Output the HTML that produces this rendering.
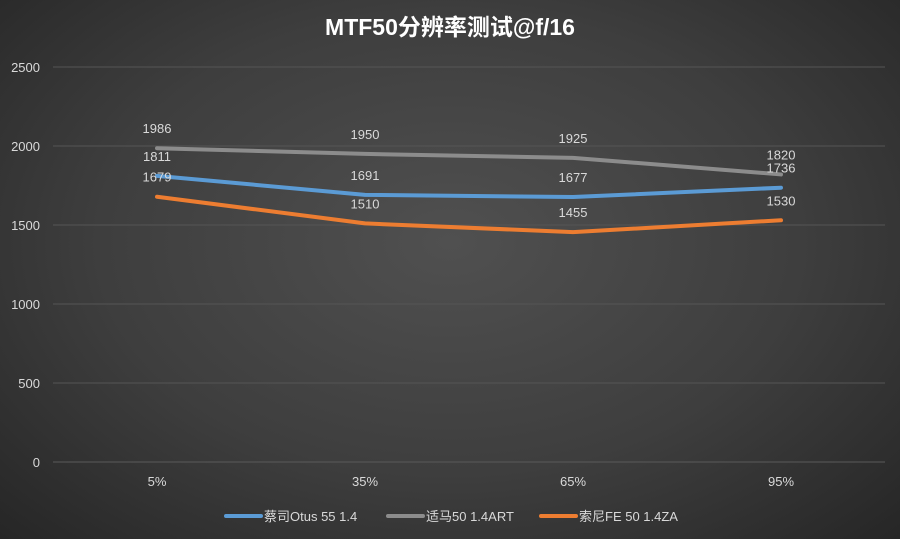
<!DOCTYPE html>
<html><head><meta charset="utf-8">
<style>
html,body{margin:0;padding:0}
body{width:900px;height:539px;overflow:hidden;background:radial-gradient(ellipse at 50% 45%,#505050 0%,#3e3e3e 55%,#262626 100%);font-family:"Liberation Sans","Noto Sans CJK SC",sans-serif}
</style></head><body>
<svg id="chart" width="900" height="539" xmlns="http://www.w3.org/2000/svg" style="position:absolute;left:0;top:0">
<text x="450" y="35" text-anchor="middle" fill="#ffffff" font-size="23" font-weight="bold" font-family="Liberation Sans, Noto Sans CJK SC, sans-serif">MTF50分辨率测试@f/16</text>
<g id="grid"></g><g id="series"></g><g id="labels"></g><g id="legend"></g>
</svg>
<script>
const categories=["5%","35%","65%","95%"];
const yTicks=[0,500,1000,1500,2000,2500];
const seriesNames=["蔡司Otus 55 1.4","适马50 1.4ART","索尼FE 50 1.4ZA"];
const zeissValues=[1811,1691,1677,1736];
const sigmaValues=[1986,1950,1925,1820];
const sonyValues=[1679,1510,1455,1530];
const colors=["#5b9bd5","#8c8c8c","#ed7d31"];
const NS="http://www.w3.org/2000/svg";
const x0=53,x1=885,y0=462,yTop=67,yMax=2500;
function xs(i){return x0+(x1-x0)/categories.length*(i+0.5);}
function ys(v){return y0-(y0-yTop)*v/yMax;}
function mk(t,a,p){const e=document.createElementNS(NS,t);for(const k in a)e.setAttribute(k,a[k]);p.appendChild(e);return e;}
const grid=document.getElementById('grid');
yTicks.forEach(v=>{
 const l=mk('line',{x1:x0,x2:x1,y1:ys(v),y2:ys(v),stroke:v===0?'#5a5a5a':'#555555','stroke-width':1},grid);
 
 
 const t=mk('text',{x:40,y:ys(v)+5,'text-anchor':'end',fill:'#d9d9d9','font-size':13},grid);
 t.textContent=v;
 
 
});
categories.forEach((c,i)=>{
 const t=mk('text',{x:xs(i),y:486,'text-anchor':'middle',fill:'#d9d9d9','font-size':13},grid);
 t.textContent=c;
 
 
});
const all=[zeissValues,sigmaValues,sonyValues];
const sg=document.getElementById('series'),lg=document.getElementById('labels');
[2,0,1].forEach(s=>{
 const vals=all[s];
 const d=vals.map((v,i)=>(i?'L':'M')+xs(i)+','+ys(v)).join(' ');
 const p=mk('path',{d:d,fill:'none',stroke:colors[s],'stroke-width':4,'stroke-linecap':'round','stroke-linejoin':'round'},sg);
 
 
 vals.forEach((v,i)=>{
  const t=mk('text',{x:xs(i),y:ys(v)-15,'text-anchor':'middle',fill:'#d9d9d9','font-size':13},lg);
  t.textContent=v;
  
  
 });
});
const leg=document.getElementById('legend');
const lx=[226,388,541];
seriesNames.forEach((n,s)=>{
 const g=mk('g',{},leg);
 
 
 mk('line',{x1:lx[s],x2:lx[s]+35,y1:516,y2:516,stroke:colors[s],'stroke-width':4,'stroke-linecap':'round'},g);
 const t=mk('text',{x:lx[s]+38,y:521,fill:'#d9d9d9','font-size':13},g);
 t.textContent=n;
});
</script>
</body></html>
